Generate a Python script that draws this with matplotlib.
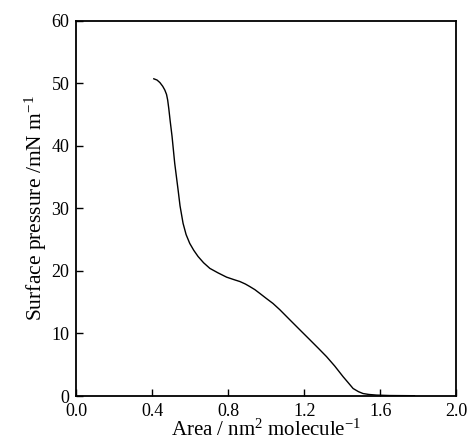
import matplotlib
matplotlib.use('Agg')
import matplotlib.pyplot as plt

# isotherm
area = [0.408, 0.425, 0.44, 0.455, 0.466, 0.475, 0.481, 0.487, 0.494, 0.504,
        0.518, 0.536, 0.546, 0.562, 0.578, 0.597, 0.618, 0.641, 0.67, 0.703,
        0.745, 0.791, 0.83, 0.861, 0.89, 0.913, 0.94, 0.966, 1.0, 1.035,
        1.071, 1.12, 1.176, 1.229, 1.275, 1.317, 1.36, 1.404, 1.432, 1.457,
        1.485, 1.509, 1.54, 1.58, 1.65, 1.78]
pressure = [50.7, 50.5, 50.1, 49.5, 48.9, 48.2, 47.3, 45.9, 44.0, 41.5,
            37.2, 32.9, 30.4, 27.6, 25.8, 24.4, 23.3, 22.3, 21.3, 20.4,
            19.7, 19.0, 18.6, 18.3, 17.9, 17.5, 17.0, 16.4, 15.6, 14.8,
            13.8, 12.3, 10.6, 9.0, 7.6, 6.3, 4.8, 3.1, 2.1, 1.2,
            0.7, 0.4, 0.25, 0.15, 0.08, 0.05]

xticks = [0.0, 0.4, 0.8, 1.2, 1.6, 2.0]
yticks = [0, 10, 20, 30, 40, 50, 60]

plt.rcParams['font.family'] = ['Liberation Serif', 'DejaVu Serif']
plt.rcParams['mathtext.fontset'] = 'custom'
plt.rcParams['mathtext.rm'] = 'Liberation Serif'
plt.rcParams['mathtext.it'] = 'Liberation Serif:italic'

fig = plt.figure(figsize=(4.68, 4.48), dpi=100)
ax = fig.add_axes([0.163, 0.116, 0.812, 0.838])

ax.plot(area, pressure, color='black', lw=1.0)

ax.set_xlim(0, 2.0)
ax.set_ylim(0, 60)
ax.set_xticks(xticks)
ax.set_xticklabels(['%.1f' % t for t in xticks])
ax.set_yticks(yticks)
ax.tick_params(direction='in', length=5, width=1.0, labelsize=13,
               top=False, right=False)
ax.tick_params(axis='x', pad=5)
ax.tick_params(axis='y', pad=5)
for s in ax.spines.values():
    s.set_linewidth(1.3)

ax.set_xlabel(r'Area / nm$^2$ molecule$^{\mathregular{-1}}$', fontsize=15, labelpad=0)
ax.set_ylabel(r'Surface pressure /mN m$^{\mathregular{-1}}$', fontsize=15.5, labelpad=2)

plt.savefig('out.png', dpi=100)
